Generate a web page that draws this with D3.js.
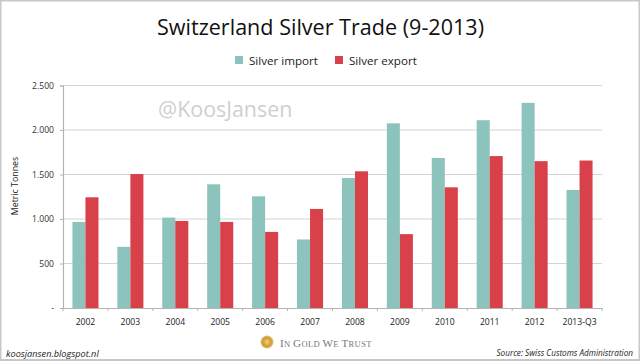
<!DOCTYPE html>
<html>
<head>
<meta charset="utf-8">
<script src="https://cdn.jsdelivr.net/npm/d3@7"></script>
<style>
  html, body { margin: 0; padding: 0; background: #fff; }
  svg { display: block; font-family: "Open Sans", sans-serif; }
</style>
</head>
<body>
<div id="chart"></div>
<script>
// Switzerland silver trade, metric tonnes
const years = ["2002", "2003", "2004", "2005", "2006", "2007", "2008", "2009", "2010", "2011", "2012", "2013-Q3"];
const silverImport = [967, 687, 1016, 1390, 1255, 770, 1460, 2075, 1685, 2110, 2305, 1326];
const silverExport = [1244, 1505, 978, 967, 855, 1113, 1536, 830, 1356, 1707, 1650, 1657];
const yTicks = [0, 500, 1000, 1500, 2000, 2500];
const seriesNames = ["Silver import", "Silver export"];
const seriesColors = ["#8cc3bc", "#d8404a"];

const viewW = 640, viewH = 361;
const margin = {top: 85.5, right: 38, bottom: 53, left: 63};
const svg = d3.select("#chart").append("svg").attr("width", viewW).attr("height", viewH);

// outer frame
svg.append("rect").attr("x", 0.5).attr("y", 0.5).attr("width", viewW - 1).attr("height", viewH - 1.5)
  .attr("fill", "#fff").attr("stroke", "#c8c8c8").attr("stroke-width", 2);

const x = d3.scaleBand().domain(years).range([margin.left, viewW - margin.right]).paddingInner(0.42).paddingOuter(0.21);
const xInner = d3.scaleBand().domain(seriesNames).range([0, x.bandwidth()]);
const y = d3.scaleLinear().domain([0, 2500]).range([viewH - margin.bottom, margin.top]);

// gridlines
svg.append("g").selectAll("line").data(yTicks.filter(d => d > 0)).join("line")
  .attr("x1", margin.left).attr("x2", viewW - margin.right)
  .attr("y1", d => y(d)).attr("y2", d => y(d))
  .attr("stroke", "#d4d4d4").attr("stroke-width", 1.2);

// bars
const rows = years.map((yr, i) => ({yr, vals: [silverImport[i], silverExport[i]]}));
svg.append("g").selectAll("g").data(rows).join("g")
  .attr("transform", d => `translate(${x(d.yr)},0)`)
  .selectAll("rect").data(d => d.vals.map((v, i) => ({v, i}))).join("rect")
  .attr("x", d => xInner(seriesNames[d.i])).attr("width", xInner.bandwidth())
  .attr("y", d => y(d.v)).attr("height", d => y(0) - y(d.v))
  .attr("fill", d => seriesColors[d.i]);

// axes
const stepX = d3.scaleBand().domain(years).range([margin.left, viewW - margin.right]);
const axisBottom = svg.append("g").attr("transform", `translate(0,${y(0)})`)
  .call(d3.axisBottom(stepX).tickSize(0).tickPadding(10.5));
axisBottom.select(".domain").attr("stroke", "#b4b4b4").attr("stroke-width", 1.2);
axisBottom.selectAll("text").attr("font-size", 8.6).attr("font-family", '"Open Sans", sans-serif').attr("fill", "#222");
axisBottom.append("g").selectAll("line").data(d3.range(years.length + 1)).join("line")
  .attr("x1", i => margin.left + i * stepX.step()).attr("x2", i => margin.left + i * stepX.step())
  .attr("y1", 0).attr("y2", 3).attr("stroke", "#b4b4b4");

const fmt = d => d === 0 ? "-" : d3.format(",")(d).replace(",", ".");
const axisLeft = svg.append("g").attr("transform", `translate(${margin.left},0)`)
  .call(d3.axisLeft(y).tickValues(yTicks).tickFormat(fmt).tickSize(3).tickPadding(6));
axisLeft.select(".domain").attr("stroke", "#b4b4b4").attr("stroke-width", 1.2);
axisLeft.selectAll("line").attr("stroke", "#b4b4b4");
axisLeft.selectAll("text").attr("font-size", 8.6).attr("font-family", '"Open Sans", sans-serif').attr("fill", "#333");

svg.append("text").attr("transform", "translate(18,186) rotate(-90)").attr("text-anchor", "middle")
  .attr("font-size", 8.8).attr("fill", "#222").text("Metric Tonnes");

// title
svg.append("text").attr("x", 320.5).attr("y", 35).attr("text-anchor", "middle")
  .attr("font-size", 22.5).attr("textLength", 327).attr("lengthAdjust", "spacingAndGlyphs")
  .attr("fill", "#111").text("Switzerland Silver Trade (9-2013)");

// legend
const legendX = [235, 335];
seriesNames.forEach((name, i) => {
  svg.append("rect").attr("x", legendX[i]).attr("y", 56).attr("width", 8).attr("height", 8).attr("fill", seriesColors[i]);
  svg.append("text").attr("x", legendX[i] + 14).attr("y", 65).attr("font-size", 11.6).attr("fill", "#222").text(name);
});

// watermark
svg.append("text").attr("x", 158).attr("y", 117).attr("font-size", 21.4).attr("fill", "#cfcfcf").text("@KoosJansen");

// footer
svg.append("text").attr("x", 6).attr("y", 357).attr("font-size", 9.2).attr("font-style", "italic").attr("fill", "#222").text("koosjansen.blogspot.nl");
svg.append("text").attr("x", 633).attr("y", 356).attr("text-anchor", "end").attr("font-size", 8.2).attr("font-style", "italic").attr("fill", "#222").text("Source: Swiss Customs Administration");

// coin logo
const grad = svg.append("defs").append("radialGradient").attr("id", "coin");
grad.append("stop").attr("offset", "0%").attr("stop-color", "#f3d27a");
grad.append("stop").attr("offset", "65%").attr("stop-color", "#cf9a35");
grad.append("stop").attr("offset", "100%").attr("stop-color", "#e6c36e");
svg.append("circle").attr("cx", 267).attr("cy", 342).attr("r", 6.5).attr("fill", "url(#coin)");
const logo = svg.append("text").attr("x", 280).attr("y", 346.5).attr("font-family", '"Liberation Serif", serif').attr("fill", "#777").attr("letter-spacing", 0.35);
[["I", 11], ["N ", 8.6], ["G", 11], ["OLD ", 8.6], ["W", 11], ["E ", 8.6], ["T", 11], ["RUST", 8.6]].forEach(([t, s]) => {
  logo.append("tspan").attr("font-size", s).text(t);
});
</script>
</body>
</html>
